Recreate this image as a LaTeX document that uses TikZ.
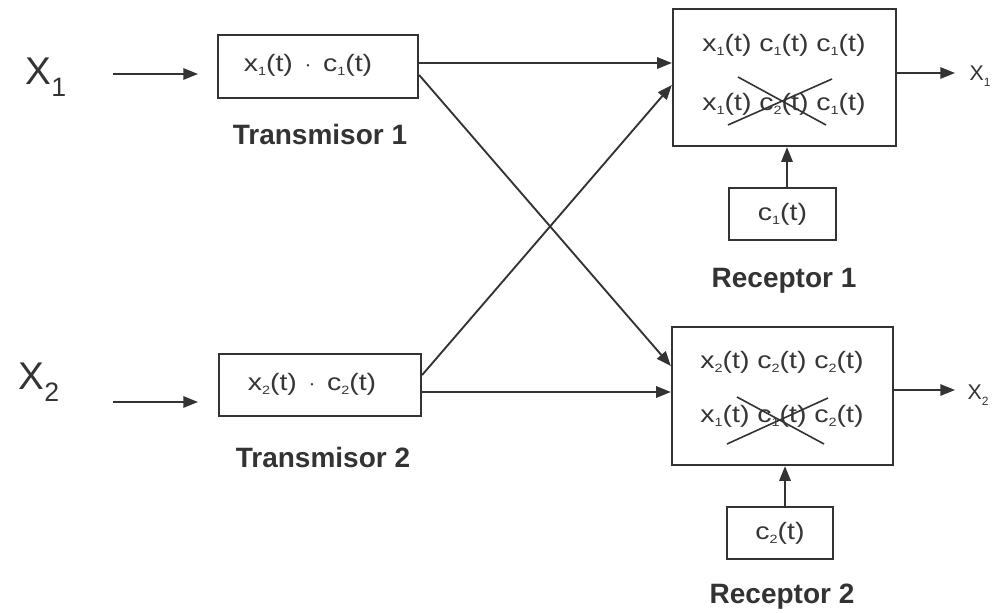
\documentclass[tikz,border=0pt]{standalone}
\usepackage{fontspec}
\setmainfont{Liberation Sans}
\newfontfamily\wideface[FakeStretch=1.2]{Liberation Sans}
\usetikzlibrary{arrows.meta,calc}

\definecolor{ink}{HTML}{333333}
\definecolor{txt}{HTML}{363636}

% small lowered index digit
\newcommand{\idx}[1]{\raisebox{-3pt}{\fontsize{9}{9}\selectfont #1}}
% expression text inside the boxes
\newcommand{\expr}[1]{{\wideface\fontsize{17.8}{19}\selectfont #1}}

\begin{document}
\begin{tikzpicture}[x=0.75pt,y=-0.75pt,
  blk/.style={draw=ink,line width=1.7pt,fill=white,inner sep=0pt},
  term/.style={text=txt,inner sep=0pt},
  wire/.style={draw=ink,line width=1.4pt,-{Triangle[length=11pt,width=8.5pt]}},
  cross/.style={draw=ink,line width=1.2pt},
  caption/.style={font=\bfseries\fontsize{21}{23}\selectfont,text=ink},
  bigsym/.style={text=ink,inner sep=0pt}]
\useasboundingbox (0,0) rectangle (996,613);

% transmitters
\node[blk,minimum width=150pt,minimum height=47.25pt] (T1) at (318,66.5) {};
\node[blk,minimum width=151.5pt,minimum height=46.5pt] (T2) at (320,385) {};
\node[term] (T1x) at (308,65) {\expr{x\idx{1}(t)\, $\cdot$\, c\idx{1}(t)}};
\node[term] (T2x) at (312,384) {\expr{x\idx{2}(t)\, $\cdot$\, c\idx{2}(t)}};
\node[caption] (T1cap) at (320,134) {Transmisor 1};
\node[caption] (T2cap) at (323,457) {Transmisor 2};

% receivers
\node[blk,minimum width=167.25pt,minimum height=102.75pt] (R1) at (784.5,77.5) {};
\node[blk,minimum width=165.75pt,minimum height=103.5pt] (R2) at (782.5,396) {};
\node[term] (R1a) at (784,45) {\expr{x\idx{1}(t) c\idx{1}(t) c\idx{1}(t)}};
\node[term] (R1b) at (784,104) {\expr{x\idx{1}(t) c\idx{2}(t) c\idx{1}(t)}};
\node[term] (R2a) at (782,362) {\expr{x\idx{2}(t) c\idx{2}(t) c\idx{2}(t)}};
\node[term] (R2b) at (782,416) {\expr{x\idx{1}(t) c\idx{1}(t) c\idx{2}(t)}};

% strike-through of the cancelled terms
\coordinate (k1a) at (728,125); \coordinate (k1b) at (832,79);
\coordinate (k1c) at (738,77);  \coordinate (k1d) at (826,125);
\coordinate (k2a) at (727,444); \coordinate (k2b) at (828,398);
\coordinate (k2c) at (737,397); \coordinate (k2d) at (824,444);
\draw[cross] (k1a) -- (k1b); \draw[cross] (k1c) -- (k1d);
\draw[cross] (k2a) -- (k2b); \draw[cross] (k2c) -- (k2d);

% local code generators
\node[blk,minimum width=80.25pt,minimum height=39pt,text=txt] (C1) at (782.5,214) {\expr{c\idx{1}(t)}};
\node[blk,minimum width=79.5pt,minimum height=39pt,text=txt] (C2) at (780,533) {\expr{c\idx{2}(t)}};
\node[caption] (R1cap) at (784,281) {Receptor 1};
\node[caption] (R2cap) at (782,597) {Receptor 2};

% inputs
\node[bigsym] (X1) at (46,77) {\fontsize{29}{31}\selectfont X\raisebox{-9pt}{\fontsize{20}{22}\selectfont 1}};
\node[bigsym] (X2) at (39,382) {\fontsize{29}{31}\selectfont X\raisebox{-9pt}{\fontsize{20}{22}\selectfont 2}};
\coordinate (i1s) at (113,74); \coordinate (i1e) at (198,74);
\coordinate (i2s) at (113,402); \coordinate (i2e) at (198,402);
\draw[wire] (i1s) -- (i1e);
\draw[wire] (i2s) -- (i2e);

% channel links
\draw[wire] (T1.east |- 0,63) -- (R1.west |- 0,63);
\draw[wire] ($(T1.east)+(0,8.5)$) -- (R2.west |- 0,366);
\draw[wire] ($(T2.east)+(0,-10)$) -- (R1.west |- 0,85);
\draw[wire] (T2.east |- 0,392) -- (R2.west |- 0,392);

% code inputs
\draw[wire] (C1.north -| 787,0) -- (R1.south -| 787,0);
\draw[wire] (C2.north -| 785,0) -- (R2.south -| 785,0);

% outputs
\node[bigsym] (Y1) at (980,76) {\fontsize{16}{18}\selectfont X\raisebox{-5pt}{\fontsize{9}{10}\selectfont 1}};
\node[bigsym] (Y2) at (978,395) {\fontsize{16}{18}\selectfont X\raisebox{-5pt}{\fontsize{9}{10}\selectfont 2}};
\draw[wire] (R1.east |- 0,73) -- (955,73) coordinate (o1);
\draw[wire] (R2.east |- 0,390) -- (955,390) coordinate (o2);
\end{tikzpicture}
\end{document}
